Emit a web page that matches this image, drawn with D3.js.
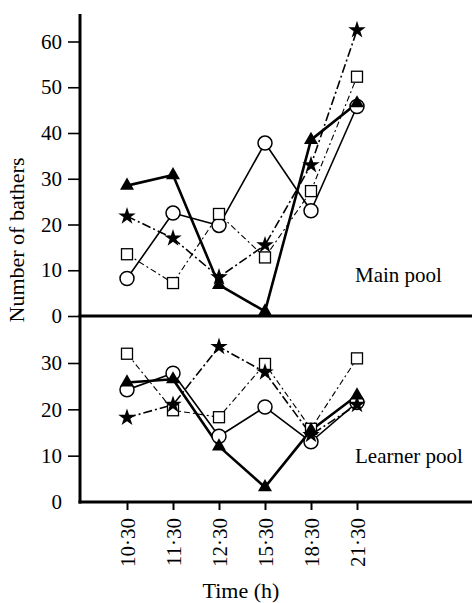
<!DOCTYPE html>
<html>
<head>
<meta charset="utf-8">
<script src="https://cdn.jsdelivr.net/npm/d3@7"></script>
<style>
  html, body { margin: 0; padding: 0; background: #fff; }
  svg { display: block; }
</style>
</head>
<body>
<div id="chart"></div>
<script>
// time of day for each count
const times = ['10·30', '11·30', '12·30', '15·30', '18·30', '21·30'];

// main pool counts
const mainTriangle = [28.5, 30.8, 6.8, 1, 38.5, 46.5];
const mainCircle = [8.2, 22.5, 19.8, 37.8, 23, 45.8];
const mainSquare = [13.5, 7.2, 22.3, 12.8, 27.3, 52.3];
const mainStar = [21.8, 17, 8.5, 15.5, 33, 62.5];

// learner pool counts
const learnerTriangle = [25.8, 26.5, 12, 3.2, 15.5, 23];
const learnerCircle = [24.2, 27.8, 14.2, 20.5, 13, 21.5];
const learnerSquare = [32, 19.8, 18.3, 29.8, 15.8, 31];
const learnerStar = [18.2, 21, 33.5, 28, 14.5, 21];

const mainTicks = [0, 10, 20, 30, 40, 50, 60];
const learnerTicks = [0, 10, 20, 30];

const width = 472, height = 603;
const axisX = 80;
const serif = '"Liberation Serif", "Times New Roman", serif';

const svg = d3.select('#chart').append('svg')
    .attr('width', width)
    .attr('height', height);

const x = d3.scalePoint().domain(times).range([127, 357]);
const yMain = d3.scaleLinear().domain([0, 60]).range([316, 41.5]);
const yLearner = d3.scaleLinear().domain([0, 30]).range([502, 363]);

// the series share the same look in both panels
const styles = {
    triangle: { width: 2.6, dash: null },
    circle: { width: 1.6, dash: null },
    square: { width: 1.1, dash: '6,3,2,3' },
    star: { width: 1.6, dash: '9,3,2,3' }
};

function drawPanel(y, series) {
    const g = svg.append('g');
    series.forEach(s => {
        const line = d3.line().x((d, i) => x(times[i])).y(d => y(d));
        g.append('path')
            .attr('d', line(s.values))
            .attr('fill', 'none')
            .attr('stroke', '#000')
            .attr('stroke-width', styles[s.shape].width)
            .attr('stroke-dasharray', styles[s.shape].dash)
            .attr('stroke-linejoin', 'round');
    });
    series.forEach(s => {
        const pts = g.selectAll(null).data(s.values).join('g')
            .attr('transform', (d, i) => `translate(${x(times[i])},${y(d)})`);
        if (s.shape === 'circle') {
            pts.append('circle').attr('r', 7)
                .attr('fill', '#fff').attr('stroke', '#000').attr('stroke-width', 1.5);
        } else if (s.shape === 'square') {
            pts.append('rect').attr('x', -5.5).attr('y', -5.5).attr('width', 11).attr('height', 11)
                .attr('fill', '#fff').attr('stroke', '#000').attr('stroke-width', 1.3);
        } else if (s.shape === 'triangle') {
            pts.append('path').attr('d', d3.symbol(d3.symbolTriangle, 85)())
                .attr('fill', '#000');
        } else {
            pts.append('path').attr('d', d3.symbol(d3.symbolStar, 95)())
                .attr('fill', '#000');
        }
    });
}

drawPanel(yMain, [
    { shape: 'circle', values: mainCircle },
    { shape: 'square', values: mainSquare },
    { shape: 'star', values: mainStar },
    { shape: 'triangle', values: mainTriangle }
]);

drawPanel(yLearner, [
    { shape: 'circle', values: learnerCircle },
    { shape: 'square', values: learnerSquare },
    { shape: 'star', values: learnerStar },
    { shape: 'triangle', values: learnerTriangle }
]);

// y axes (ticks + labels), frame drawn separately
function yAxis(scale, ticks, skipZeroTick) {
    const g = svg.append('g')
        .attr('transform', `translate(${axisX},0)`)
        .call(d3.axisLeft(scale).tickValues(ticks).tickSize(12).tickPadding(6).tickFormat(d3.format('d')));
    g.select('.domain').remove();
    g.selectAll('.tick line').attr('stroke-width', 1.6)
        .attr('display', d => (skipZeroTick && d === 0) ? 'none' : null);
    g.selectAll('.tick text')
        .style('font-family', serif)
        .style('font-size', '21px')
        .attr('fill', '#000');
}
yAxis(yMain, mainTicks, false);
yAxis(yLearner, learnerTicks, true);

// x axis
const xg = svg.append('g')
    .attr('transform', 'translate(0,502)')
    .call(d3.axisBottom(x).tickSize(8).tickFormat(d => d));
xg.select('.domain').remove();
xg.selectAll('.tick line').attr('stroke-width', 2);
xg.selectAll('.tick text')
    .attr('transform', 'translate(0,16) rotate(-90)')
    .attr('x', 0).attr('y', 0).attr('dy', '0.35em')
    .attr('text-anchor', 'end')
    .style('font-family', serif)
    .style('font-size', '21px')
    .attr('fill', '#000');

// frame: vertical axis and the two baselines
svg.append('line').attr('x1', axisX).attr('x2', axisX).attr('y1', 14).attr('y2', 503.5)
    .attr('stroke', '#000').attr('stroke-width', 3);
[316, 502].forEach(yy => {
    svg.append('line').attr('x1', axisX - 1.5).attr('x2', width).attr('y1', yy).attr('y2', yy)
        .attr('stroke', '#000').attr('stroke-width', 3);
});

svg.append('text').attr('x', 355).attr('y', 282).text('Main pool')
    .style('font-family', serif).style('font-size', '21px');
svg.append('text').attr('x', 355).attr('y', 463).text('Learner pool')
    .style('font-family', serif).style('font-size', '21px');

svg.append('text').attr('x', 241).attr('y', 598).attr('text-anchor', 'middle').text('Time (h)')
    .style('font-family', serif).style('font-size', '22px');

svg.append('text')
    .attr('transform', 'translate(24,240) rotate(-90)')
    .attr('text-anchor', 'middle')
    .text('Number of bathers')
    .style('font-family', serif).style('font-size', '22px');
</script>
</body>
</html>
